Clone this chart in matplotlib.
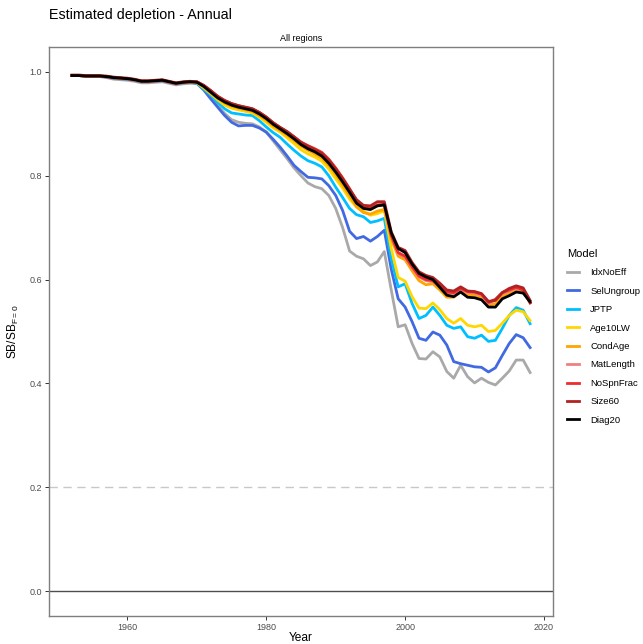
import matplotlib
matplotlib.use("Agg")
import matplotlib.pyplot as plt
import numpy as np

plt.rcParams["font.family"] = ["Liberation Sans", "DejaVu Sans"]
plt.rcParams["mathtext.fontset"] = "custom"
plt.rcParams["mathtext.rm"] = "Liberation Sans"

years = list(range(1952, 2019))

# values, 1952-2018
idx_no_eff = [0.993, 0.993, 0.992, 0.992, 0.991, 0.989, 0.986, 0.985, 0.984, 0.982, 0.979, 0.979, 0.980, 0.981, 0.978, 0.975, 0.977, 0.978,
              0.978, 0.967, 0.952, 0.935, 0.920, 0.908, 0.903, 0.901, 0.900, 0.894, 0.884, 0.867, 0.850, 0.833, 0.815, 0.800,
              0.786, 0.779, 0.775, 0.762, 0.737, 0.700, 0.655, 0.645, 0.640, 0.627, 0.634, 0.654, 0.580, 0.509, 0.513, 0.477,
              0.448, 0.447, 0.461, 0.451, 0.423, 0.410, 0.435, 0.413, 0.401, 0.410, 0.402, 0.397, 0.410, 0.424, 0.445, 0.445, 0.421]
sel_ungroup = [0.993, 0.993, 0.992, 0.992, 0.992, 0.990, 0.988, 0.987, 0.986, 0.984, 0.981, 0.981, 0.982, 0.983, 0.980, 0.977, 0.979, 0.980,
               0.978, 0.965, 0.948, 0.932, 0.916, 0.903, 0.896, 0.897, 0.897, 0.892, 0.884, 0.870, 0.855, 0.838, 0.820, 0.808,
               0.797, 0.796, 0.794, 0.781, 0.762, 0.733, 0.693, 0.679, 0.683, 0.674, 0.683, 0.695, 0.620, 0.563, 0.547, 0.519,
               0.487, 0.483, 0.499, 0.493, 0.474, 0.442, 0.438, 0.435, 0.432, 0.431, 0.422, 0.430, 0.454, 0.477, 0.494, 0.488, 0.469]
jptp = [0.993, 0.993, 0.992, 0.992, 0.992, 0.991, 0.989, 0.988, 0.987, 0.985, 0.982, 0.982, 0.983, 0.984, 0.981, 0.978, 0.980, 0.981,
        0.978, 0.967, 0.955, 0.941, 0.929, 0.921, 0.919, 0.917, 0.916, 0.906, 0.894, 0.883, 0.874, 0.861, 0.849, 0.838,
        0.829, 0.824, 0.817, 0.800, 0.778, 0.758, 0.737, 0.725, 0.721, 0.710, 0.713, 0.718, 0.640, 0.586, 0.592, 0.554,
        0.525, 0.531, 0.547, 0.531, 0.512, 0.506, 0.509, 0.490, 0.487, 0.493, 0.481, 0.483, 0.506, 0.531, 0.546, 0.541, 0.515]
age10lw = [0.993, 0.993, 0.992, 0.992, 0.992, 0.991, 0.989, 0.988, 0.987, 0.985, 0.982, 0.982, 0.983, 0.984, 0.981, 0.978, 0.980, 0.981,
           0.979, 0.969, 0.958, 0.946, 0.936, 0.930, 0.927, 0.924, 0.921, 0.913, 0.903, 0.892, 0.884, 0.873, 0.862, 0.850,
           0.842, 0.836, 0.828, 0.813, 0.794, 0.776, 0.755, 0.740, 0.732, 0.724, 0.727, 0.733, 0.660, 0.604, 0.597, 0.567,
           0.545, 0.544, 0.555, 0.542, 0.525, 0.516, 0.525, 0.512, 0.509, 0.512, 0.500, 0.502, 0.516, 0.531, 0.541, 0.538, 0.521]
cond_age = [0.993, 0.993, 0.992, 0.992, 0.992, 0.991, 0.989, 0.988, 0.987, 0.985, 0.982, 0.982, 0.983, 0.984, 0.981, 0.978, 0.980, 0.981,
            0.980, 0.971, 0.960, 0.949, 0.940, 0.934, 0.930, 0.927, 0.924, 0.916, 0.907, 0.896, 0.887, 0.878, 0.868, 0.857,
            0.849, 0.842, 0.834, 0.820, 0.802, 0.782, 0.762, 0.740, 0.729, 0.726, 0.732, 0.735, 0.678, 0.645, 0.638, 0.617,
            0.598, 0.590, 0.592, 0.580, 0.566, 0.566, 0.578, 0.570, 0.570, 0.566, 0.551, 0.553, 0.568, 0.574, 0.580, 0.577, 0.556]
mat_length = [0.993, 0.993, 0.992, 0.992, 0.992, 0.991, 0.989, 0.988, 0.987, 0.985, 0.982, 0.982, 0.983, 0.984, 0.981, 0.978, 0.980, 0.981,
              0.981, 0.973, 0.963, 0.952, 0.944, 0.938, 0.934, 0.931, 0.928, 0.921, 0.912, 0.901, 0.892, 0.884, 0.874, 0.864,
              0.856, 0.850, 0.843, 0.830, 0.813, 0.794, 0.773, 0.750, 0.738, 0.735, 0.742, 0.743, 0.683, 0.650, 0.643, 0.623,
              0.605, 0.598, 0.596, 0.586, 0.574, 0.573, 0.581, 0.575, 0.574, 0.570, 0.554, 0.560, 0.573, 0.578, 0.583, 0.579, 0.555]
no_spn_frac = [0.993, 0.993, 0.992, 0.992, 0.992, 0.991, 0.989, 0.988, 0.987, 0.985, 0.982, 0.982, 0.983, 0.984, 0.981, 0.978, 0.980, 0.981,
               0.981, 0.974, 0.964, 0.953, 0.945, 0.939, 0.935, 0.932, 0.929, 0.922, 0.913, 0.902, 0.893, 0.885, 0.875, 0.865,
               0.858, 0.852, 0.845, 0.832, 0.815, 0.796, 0.775, 0.752, 0.740, 0.737, 0.744, 0.745, 0.685, 0.652, 0.645, 0.625,
               0.607, 0.600, 0.598, 0.588, 0.576, 0.575, 0.583, 0.577, 0.576, 0.572, 0.556, 0.562, 0.575, 0.580, 0.585, 0.580, 0.555]
size60 = [0.994, 0.994, 0.993, 0.993, 0.993, 0.992, 0.990, 0.989, 0.988, 0.986, 0.983, 0.983, 0.984, 0.985, 0.982, 0.979, 0.981, 0.982,
          0.981, 0.974, 0.964, 0.953, 0.945, 0.939, 0.935, 0.932, 0.929, 0.922, 0.913, 0.902, 0.893, 0.885, 0.875, 0.864,
          0.857, 0.850, 0.843, 0.830, 0.813, 0.794, 0.774, 0.754, 0.743, 0.742, 0.750, 0.750, 0.692, 0.662, 0.656, 0.633,
          0.615, 0.608, 0.604, 0.593, 0.580, 0.578, 0.586, 0.578, 0.577, 0.573, 0.558, 0.560, 0.575, 0.583, 0.588, 0.584, 0.560]
diag20 = [0.993, 0.993, 0.992, 0.992, 0.992, 0.991, 0.989, 0.988, 0.987, 0.985, 0.982, 0.982, 0.983, 0.984, 0.981, 0.978, 0.980, 0.981,
          0.980, 0.972, 0.961, 0.950, 0.942, 0.936, 0.932, 0.929, 0.926, 0.919, 0.910, 0.899, 0.890, 0.881, 0.871, 0.860,
          0.852, 0.846, 0.838, 0.824, 0.807, 0.788, 0.768, 0.747, 0.737, 0.735, 0.742, 0.744, 0.690, 0.660, 0.652, 0.630,
          0.612, 0.605, 0.600, 0.585, 0.570, 0.567, 0.576, 0.566, 0.565, 0.561, 0.547, 0.547, 0.563, 0.569, 0.576, 0.574, 0.557]

models = ["IdxNoEff", "SelUngroup", "JPTP", "Age10LW", "CondAge", "MatLength", "NoSpnFrac", "Size60", "Diag20"]
series = [idx_no_eff, sel_ungroup, jptp, age10lw, cond_age, mat_length, no_spn_frac, size60, diag20]
colors = ["#A9A9A9", "#4169E1", "#00BFFF", "#FFD700", "#FFA500", "#F08080", "#EE2C2C", "#B22222", "#000000"]

fig = plt.figure(figsize=(6.43, 6.44), dpi=100)
ax = fig.add_axes([49 / 643, 1 - 616 / 644, (553 - 49) / 643, (616 - 47) / 644])

ax.axhline(0.2, color="#C8C8C8", lw=1.0, ls=(0, (6, 4)), zorder=1)
ax.axhline(0.0, color="#4D4D4D", lw=1.0, zorder=1)

for name, vals, col in zip(models, series, colors):
    ax.plot(years, vals, color=col, lw=2.0, label=name, zorder=2, solid_joinstyle="round")

ax.set_xlim(1948.7, 2021.3)
ax.set_ylim(-0.048, 1.048)
ax.set_xticks([1960, 1980, 2000, 2020])
ax.set_yticks([0.0, 0.2, 0.4, 0.6, 0.8, 1.0])
ax.set_yticklabels(["0.0", "0.2", "0.4", "0.6", "0.8", "1.0"])
ax.tick_params(colors="#333333", labelcolor="#4D4D4D", labelsize=6.5, length=3, width=0.7, pad=2)
for s in ax.spines.values():
    s.set_color("#7F7F7F")
    s.set_linewidth(1.0)

ax.set_xlabel("Year", fontsize=8.6, labelpad=0)
ax.set_ylabel(r"$\mathregular{SB/SB_{F=0}}$", fontsize=8.6, labelpad=6)
ax.set_title("All regions", fontsize=6.5, pad=4)
fig.text(49 / 643, 1 - 15 / 644, "Estimated depletion - Annual", fontsize=10.3, va="center", ha="left")

leg = fig.legend(loc="upper left", bbox_to_anchor=(563 / 643, 1 - 245 / 644), frameon=False,
                 title="Model", fontsize=6.8, title_fontsize=8, handlelength=1.3, handletextpad=1.2,
                 labelspacing=1.0, borderaxespad=0)
leg._legend_box.align = "left"

fig.savefig("out.png", dpi=100)
